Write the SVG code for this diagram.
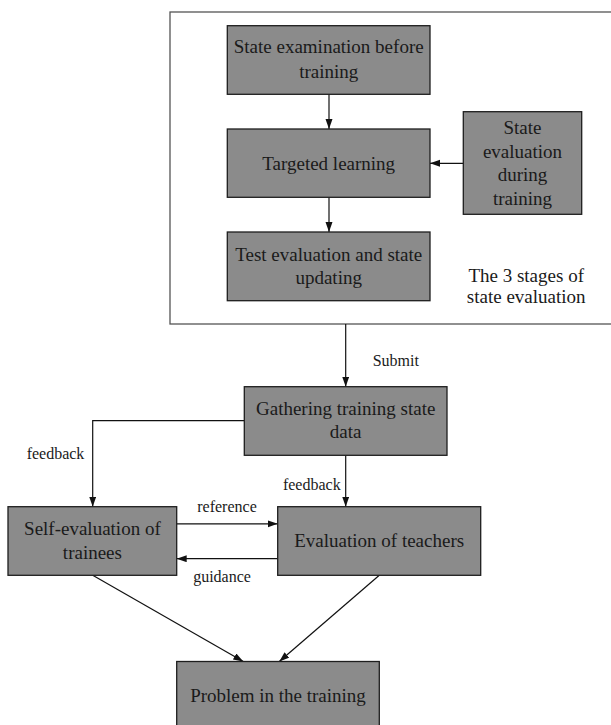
<svg xmlns="http://www.w3.org/2000/svg" width="611" height="725" viewBox="0 0 611 725">
<style>
.box{fill:#8b8b8b;stroke:#1e1e1e;stroke-width:1.3}
.t{font-family:"Liberation Serif","Times New Roman",serif;font-size:19px;fill:#1a1a1a;text-anchor:middle}
.s{font-family:"Liberation Serif","Times New Roman",serif;font-size:16px;fill:#1a1a1a;text-anchor:middle}
.c{fill:none;stroke:#111;stroke-width:1.2}
</style>
<defs>
<marker id="ah" markerUnits="userSpaceOnUse" markerWidth="11" markerHeight="8" refX="10" refY="3.5" orient="auto">
<path d="M0,0 L10,3.5 L0,7 z" fill="#111"/>
</marker>
</defs>
<rect id="frame" x="170" y="12" width="460" height="312" fill="#fff" stroke="#555" stroke-width="1.3"/>
<g id="connectors">
<line class="c" x1="329" y1="94.3" x2="329" y2="129" marker-end="url(#ah)"/>
<line class="c" x1="329" y1="197.3" x2="329" y2="232" marker-end="url(#ah)"/>
<line class="c" x1="463.3" y1="163.3" x2="430" y2="163.3" marker-end="url(#ah)"/>
<line class="c" x1="345.7" y1="324" x2="345.7" y2="386.7" marker-end="url(#ah)"/>
<polyline class="c" points="244.3,420.7 92.7,420.7 92.7,506.7" marker-end="url(#ah)"/>
<line class="c" x1="345.7" y1="455.3" x2="345.7" y2="506.7" marker-end="url(#ah)"/>
<line class="c" x1="176.7" y1="523.8" x2="277.7" y2="523.8" marker-end="url(#ah)"/>
<line class="c" x1="277.7" y1="558.7" x2="176.7" y2="558.7" marker-end="url(#ah)"/>
<line class="c" x1="92.7" y1="575.3" x2="243.3" y2="661.5" marker-end="url(#ah)"/>
<line class="c" x1="379.3" y1="575.3" x2="279.3" y2="661.5" marker-end="url(#ah)"/>
<text class="s" x="395.8" y="365.5">Submit</text>
<text class="s" x="55.5" y="459.3">feedback</text>
<text class="s" x="311.8" y="490">feedback</text>
<text class="s" x="227" y="511.7">reference</text>
<text class="s" x="222" y="582">guidance</text>
</g>
<g id="n1"><rect class="box" x="227.3" y="25.7" width="202.7" height="68.6"/>
<text class="t" x="328.7" y="53.3">State examination before</text><text class="t" x="328.7" y="77.5">training</text></g>
<g id="n2"><rect class="box" x="227.3" y="129" width="202.7" height="68.3"/>
<text class="t" x="328.7" y="169.5">Targeted learning</text></g>
<g id="n3"><rect class="box" x="227.3" y="232" width="202.7" height="68.7"/>
<text class="t" x="328.7" y="260.7">Test evaluation and state</text><text class="t" x="328.7" y="284">updating</text></g>
<g id="n4"><rect class="box" x="463.3" y="111.7" width="118.4" height="102.6"/>
<text class="t" x="522.5" y="134.3">State</text><text class="t" x="522.5" y="157.8">evaluation</text><text class="t" x="522.5" y="181.3">during</text><text class="t" x="522.5" y="204.8">training</text></g>
<g id="label"><text class="t" x="526.2" y="281.7">The 3 stages of</text><text class="t" x="526.2" y="303.3">state evaluation</text></g>
<g id="n5"><rect class="box" x="244.3" y="386.7" width="202.7" height="68.6"/>
<text class="t" x="345.7" y="415">Gathering training state</text><text class="t" x="345.7" y="437.5">data</text></g>
<g id="n6"><rect class="box" x="8" y="506.7" width="168.7" height="68.6"/>
<text class="t" x="92.4" y="535">Self-evaluation of</text><text class="t" x="92.4" y="559.3">trainees</text></g>
<g id="n7"><rect class="box" x="277.7" y="506.7" width="203" height="68.6"/>
<text class="t" x="379.2" y="547.3">Evaluation of teachers</text></g>
<g id="n8"><rect class="box" x="176.7" y="661.5" width="202.6" height="80"/>
<text class="t" x="278" y="701.7">Problem in the training</text></g>
</svg>
